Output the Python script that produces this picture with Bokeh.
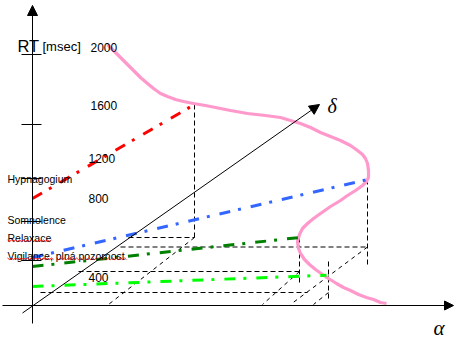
from bokeh.plotting import figure
from bokeh.models import Range1d, Arrow, NormalHead
from bokeh.core.properties import value
from bokeh.embed import file_html
from bokeh.resources import INLINE
import numpy as np

# ---------------- data (schematic drawing units, y grows downward) ----------------
# RT axis ticks and labels [msec]
rt_tick_y = [54, 124, 178, 221, 260]
rt_labels = ["2000", "1600", "1200", "800", "400"]
rt_label_x = [90, 90, 88, 88, 88]
rt_label_y = [46.5, 105, 157.5, 198, 277]

# state names on the RT axis
state_labels = ["Hypnagogium", "Somnolence", "Relaxace", "Vigilance, plná pozornost"]
state_label_y = [178, 219.5, 237, 255]

# RT distribution curve (pink)
curve_x = [107, 113, 120, 127, 133, 140, 147, 153, 160, 167, 175, 183, 193, 205, 215,
           230, 247, 265, 280, 290, 300, 310, 320, 330, 340, 350, 357, 362, 365, 367,
           368, 368, 366, 362, 355, 347, 340, 330, 320, 313, 307, 302, 299, 297, 298,
           300, 304, 309, 315, 322, 328, 336, 343, 350, 358, 366, 373, 380, 386]
curve_y = [44, 50, 57, 64, 70, 77, 83, 88, 93, 96, 99, 101, 103, 105, 107,
           110, 113, 115, 117, 120, 123, 127, 132, 136, 140, 145, 150, 154, 158, 163,
           170, 177, 181, 185, 190, 195, 200, 206, 213, 218, 223, 228, 234, 241, 248,
           253, 259, 264, 269, 274, 278, 283, 287, 290, 294, 297, 299, 302, 303]

# state lines (dash-dot)
red_x = [32, 194];      red_y = [198, 104]
blue_x = [32, 367];     blue_y = [257, 179]
dkgreen_x = [32, 299];  dkgreen_y = [266, 237]
green_x = [32, 326];    green_y = [286, 274.7]

# projection lines (black dashed)
hproj_x = [[128, 194], [120, 368], [78, 299], [40, 307]]
hproj_y = [[237, 237], [246.5, 246.5], [271, 271], [292, 292]]
vproj_x = [[194, 194], [367, 367], [299, 299], [328, 328]]
vproj_y = [[104, 237], [179, 264], [237, 283], [261, 300]]
dproj_x = [[194, 108], [367, 290], [299, 262], [328, 313]]
dproj_y = [[237, 304], [246.5, 304], [271, 304], [292, 304]]

# axes
rt_axis = (32, 323, 32, 5)
alpha_axis = (2, 305, 453, 305)
delta_axis = (22, 312.5, 319, 104)

# --------------------------------------------------------------------------------
W, H = 460, 340
p = figure(width=W, height=H, x_range=Range1d(0, W), y_range=Range1d(H, 0),
           output_backend="svg", toolbar_location=None, min_border=0,
           x_axis_location=None, y_axis_location=None)
p.grid.visible = False
p.outline_line_color = None
p.background_fill_color = "white"
p.border_fill_color = "white"

FONT = value("Liberation Sans")

# projection dashed lines
p.multi_line(hproj_x, hproj_y, line_color="black", line_width=1, line_dash="5 3")
p.multi_line(vproj_x, vproj_y, line_color="black", line_width=1, line_dash="5 3")
p.multi_line(dproj_x, dproj_y, line_color="black", line_width=1, line_dash="4 4")

# axes with arrow heads
for (xs, ys, xe, ye), sz in [(rt_axis, 10), (alpha_axis, 9), (delta_axis, 10)]:
    p.add_layout(Arrow(x_start=xs, y_start=ys, x_end=xe, y_end=ye, line_width=1,
                       line_color="black",
                       end=NormalHead(size=sz, fill_color="black", line_color="black",
                                      line_width=1)))

# ticks on RT axis
p.segment(x0=[21] * len(rt_tick_y), y0=rt_tick_y, x1=[41] * len(rt_tick_y), y1=rt_tick_y,
          line_color="black", line_width=1)

# pink curve
p.line(curve_x, curve_y, line_color="#FF99CC", line_width=3.2, line_join="round")

# dash-dot state lines
dd = "11 8 3 10"
p.line(red_x, red_y, line_color="#FF0000", line_width=3, line_dash=dd)
p.line(blue_x, blue_y, line_color="#3366FF", line_width=3, line_dash=dd)
p.line(dkgreen_x, dkgreen_y, line_color="#008000", line_width=3, line_dash=dd)
p.line(green_x, green_y, line_color="#00FF00", line_width=3, line_dash=dd)

# texts
p.text(x=[17], y=[45], text=["RT"], text_font=FONT, text_font_size=value("16.5px"),
       text_color="black", text_baseline="alphabetic", text_align="left")
p.text(x=[42], y=[45.5], text=["[msec]"], text_font=FONT, text_font_size=value("13px"),
       text_color="black", text_baseline="alphabetic", text_align="left")
p.text(x=rt_label_x, y=rt_label_y, text=rt_labels, text_font=FONT,
       text_font_size=value("12px"), text_color="black",
       text_baseline="alphabetic", text_align="left")
p.text(x=[7] * len(state_labels), y=state_label_y, text=state_labels, text_font=FONT,
       text_font_size=value("10.5px"), text_color="black",
       text_baseline="alphabetic", text_align="left")

# spell-check squiggles under the Czech words
for x0, x1, yy in [(7, 52, 240.3), (7, 53, 258.3), (56, 127, 258.3)]:
    zx = np.arange(x0, x1 + 0.1, 2.0)
    zy = yy + np.where(np.arange(len(zx)) % 2 == 0, -0.8, 0.8)
    p.line(zx, zy, line_color="#FF0000", line_width=0.9)

# greek axis names
p.text(x=[327], y=[105], text=["δ"], text_font=value("Liberation Serif"),
       text_font_style="italic", text_font_size=value("20px"), text_color="black",
       text_baseline="alphabetic", text_align="left")
p.text(x=[433], y=[327], text=["α"], text_font=value("Liberation Serif"),
       text_font_style="italic", text_font_size=value("21px"), text_color="black",
       text_baseline="alphabetic", text_align="left")

open("out.html", "w").write(file_html(p, INLINE))
